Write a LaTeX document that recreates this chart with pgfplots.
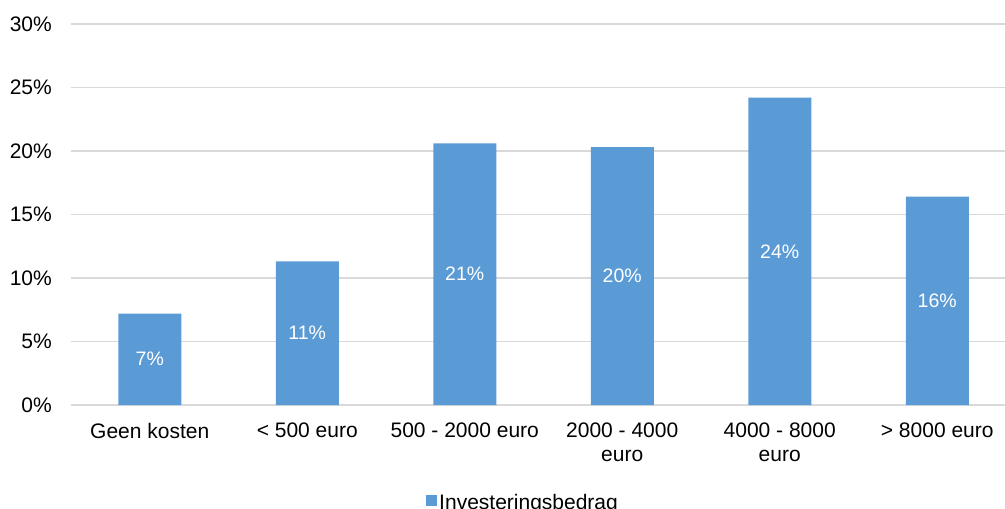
\documentclass[border=0pt]{standalone}
\usepackage{fontspec}
\setmainfont{Liberation Sans}
\usepackage{pgfplots}
\pgfplotsset{compat=1.18}
\definecolor{barblue}{HTML}{5B9BD5}
\definecolor{gridgray}{HTML}{D9D9D9}
\begin{document}
\fontsize{21}{24}\selectfont
\begin{tikzpicture}[x=1pt,y=1pt]
\begin{axis}[
  at={(71pt,104pt)}, anchor=south west,
  scale only axis, width=945pt, height=381pt,
  xmin=-0.5, xmax=5.5, ymin=0, ymax=30,
  axis line style={draw=none},
  major tick length=0pt,
  ytick={0,5,10,15,20,25,30},
  yticklabel={\pgfmathprintnumber{\tick}\%},
  /pgf/number format/assume math mode=true,
  ymajorgrids, grid style={draw=gridgray, line width=1.3pt},
  xtick={0,1,2,3,4,5},
  xticklabels={Geen kosten, {< 500 euro}, {500 - 2000 euro}, {2000 - 4000\\euro}, {4000 - 8000\\euro}, {> 8000 euro}},
  xticklabel style={align=center, inner sep=0pt, yshift=-18pt, font=\fontsize{21}{24}\selectfont},
  yticklabel style={inner sep=0pt, xshift=-19pt, font=\fontsize{21}{24}\selectfont},
  ybar, bar width=63pt,
  visualization depends on={rawy \as \rawy},
  nodes near coords={\pgfmathprintnumber[fixed,precision=0]{\pgfplotspointmeta}\%},
  every node near coord/.append style={anchor=center, text=white, yshift=-6.35*\rawy, font=\fontsize{19.5}{23}\selectfont},
  legend style={draw=none, fill=none, at={(0.3757,-0.258)}, anchor=west, inner sep=0pt, nodes={inner sep=2pt}, font=\fontsize{21}{24}\selectfont},
  legend image code/.code={\fill[barblue] (0pt,-2.5pt) rectangle (11pt,8.5pt);},
]
\addplot[fill=barblue, draw=none] coordinates {(0,7.2) (1,11.3) (2,20.6) (3,20.3) (4,24.2) (5,16.4)};
\addlegendentry{Investeringsbedrag}
\end{axis}
\pgfresetboundingbox
\path[use as bounding box] (0,0) rectangle (1005,509);
\end{tikzpicture}
\end{document}
